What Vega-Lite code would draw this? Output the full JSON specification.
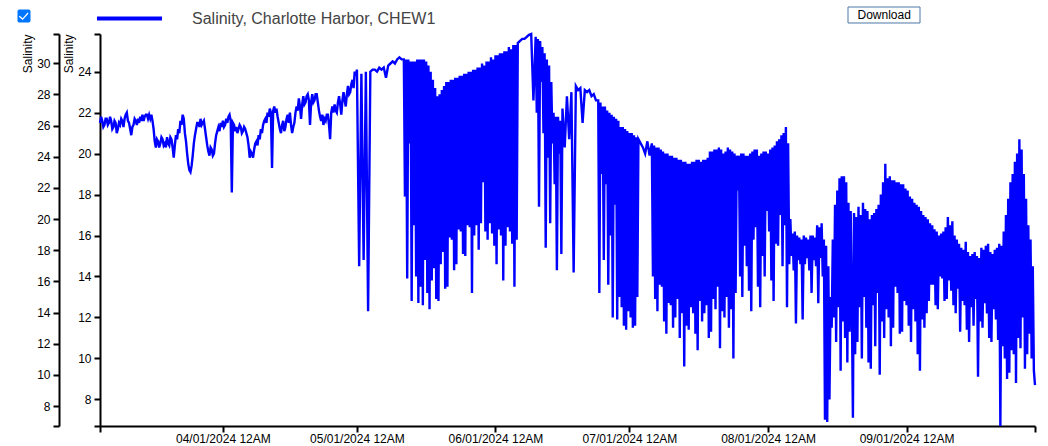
{
  "$schema": "https://vega.github.io/schema/vega-lite/v6.json",
  "width": 935,
  "height": 392,
  "autosize": {"type": "none"},
  "padding": {"left": 100, "top": 34, "right": 13, "bottom": 20},
  "background": "white",
  "config": {"view": {"stroke": null}, "font": "Liberation Sans"},
  "data": {"values": [
{"t":"2024-03-04T12:00","s":21.5},{"t":"2024-03-04T18:00","s":21.8},
{"t":"2024-03-05T00:00","s":21.6},{"t":"2024-03-05T06:00","s":21.3},{"t":"2024-03-05T12:00","s":21.4},{"t":"2024-03-05T18:00","s":21.7},
{"t":"2024-03-06T00:00","s":21.7},{"t":"2024-03-06T06:00","s":21.4},{"t":"2024-03-06T12:00","s":21.5},{"t":"2024-03-06T18:00","s":21.8},
{"t":"2024-03-07T00:00","s":21.6},{"t":"2024-03-07T06:00","s":21.2},{"t":"2024-03-07T12:00","s":21.3},{"t":"2024-03-07T18:00","s":21.6},
{"t":"2024-03-08T00:00","s":21.5},{"t":"2024-03-08T06:00","s":21.0},{"t":"2024-03-08T12:00","s":21.2},{"t":"2024-03-08T18:00","s":21.5},
{"t":"2024-03-09T00:00","s":21.4},{"t":"2024-03-09T06:00","s":21.7},{"t":"2024-03-09T12:00","s":21.6},{"t":"2024-03-09T18:00","s":21.3},
{"t":"2024-03-10T00:00","s":21.7},{"t":"2024-03-10T06:00","s":21.9},{"t":"2024-03-10T12:00","s":22.0},{"t":"2024-03-10T18:00","s":21.6},
{"t":"2024-03-11T00:00","s":21.5},{"t":"2024-03-11T06:00","s":21.2},{"t":"2024-03-11T12:00","s":20.9},{"t":"2024-03-11T18:00","s":21.3},
{"t":"2024-03-12T00:00","s":21.4},{"t":"2024-03-12T06:00","s":21.7},{"t":"2024-03-12T12:00","s":21.6},{"t":"2024-03-12T18:00","s":21.4},
{"t":"2024-03-13T00:00","s":21.7},{"t":"2024-03-13T06:00","s":21.5},{"t":"2024-03-13T12:00","s":21.8},{"t":"2024-03-13T18:00","s":21.6},
{"t":"2024-03-14T00:00","s":21.9},{"t":"2024-03-14T06:00","s":21.6},{"t":"2024-03-14T12:00","s":21.8},{"t":"2024-03-14T18:00","s":21.9},
{"t":"2024-03-15T00:00","s":21.9},{"t":"2024-03-15T06:00","s":21.7},{"t":"2024-03-15T12:00","s":21.9},{"t":"2024-03-15T18:00","s":21.7},
{"t":"2024-03-16T00:00","s":21.9},{"t":"2024-03-16T06:00","s":21.6},{"t":"2024-03-16T12:00","s":21.2},{"t":"2024-03-16T18:00","s":20.6},
{"t":"2024-03-17T00:00","s":20.3},{"t":"2024-03-17T06:00","s":20.7},{"t":"2024-03-17T12:00","s":20.6},{"t":"2024-03-17T18:00","s":20.3},
{"t":"2024-03-18T00:00","s":20.5},{"t":"2024-03-18T06:00","s":20.8},{"t":"2024-03-18T12:00","s":20.7},{"t":"2024-03-18T18:00","s":20.4},
{"t":"2024-03-19T00:00","s":20.5},{"t":"2024-03-19T06:00","s":20.3},{"t":"2024-03-19T12:00","s":20.8},{"t":"2024-03-19T18:00","s":20.5},
{"t":"2024-03-20T00:00","s":20.4},{"t":"2024-03-20T06:00","s":20.8},{"t":"2024-03-20T12:00","s":20.7},{"t":"2024-03-20T18:00","s":20.3},
{"t":"2024-03-21T00:00","s":19.8},{"t":"2024-03-21T06:00","s":20.4},{"t":"2024-03-21T12:00","s":20.9},{"t":"2024-03-21T18:00","s":20.7},
{"t":"2024-03-22T00:00","s":21.2},{"t":"2024-03-22T06:00","s":21.0},{"t":"2024-03-22T12:00","s":21.6},{"t":"2024-03-22T18:00","s":21.4},
{"t":"2024-03-23T00:00","s":21.9},{"t":"2024-03-23T06:00","s":21.7},{"t":"2024-03-23T12:00","s":21.0},{"t":"2024-03-23T18:00","s":20.6},
{"t":"2024-03-24T00:00","s":20.0},{"t":"2024-03-24T06:00","s":19.5},{"t":"2024-03-24T12:00","s":19.2},{"t":"2024-03-24T18:00","s":19.1},
{"t":"2024-03-25T00:00","s":19.4},{"t":"2024-03-25T06:00","s":19.9},{"t":"2024-03-25T12:00","s":20.5},{"t":"2024-03-25T18:00","s":20.9},
{"t":"2024-03-26T00:00","s":21.2},{"t":"2024-03-26T06:00","s":21.5},{"t":"2024-03-26T12:00","s":21.5},{"t":"2024-03-26T18:00","s":21.3},
{"t":"2024-03-27T00:00","s":21.7},{"t":"2024-03-27T06:00","s":21.4},{"t":"2024-03-27T12:00","s":21.5},{"t":"2024-03-27T18:00","s":21.6},
{"t":"2024-03-28T00:00","s":21.2},{"t":"2024-03-28T06:00","s":20.8},{"t":"2024-03-28T12:00","s":20.4},{"t":"2024-03-28T18:00","s":20.1},
{"t":"2024-03-29T00:00","s":19.9},{"t":"2024-03-29T06:00","s":20.3},{"t":"2024-03-29T12:00","s":20.2},{"t":"2024-03-29T18:00","s":19.9},
{"t":"2024-03-30T00:00","s":20.0},{"t":"2024-03-30T06:00","s":20.5},{"t":"2024-03-30T12:00","s":20.9},{"t":"2024-03-30T18:00","s":21.1},
{"t":"2024-03-31T00:00","s":21.3},{"t":"2024-03-31T06:00","s":21.1},{"t":"2024-03-31T12:00","s":21.5},{"t":"2024-03-31T18:00","s":21.3},
{"t":"2024-04-01T00:00","s":21.6},{"t":"2024-04-01T06:00","s":21.3},{"t":"2024-04-01T12:00","s":21.4},{"t":"2024-04-01T18:00","s":21.7},
{"t":"2024-04-02T00:00","s":21.5},{"t":"2024-04-02T06:00","s":21.8},{"t":"2024-04-02T12:00","s":21.9},{"t":"2024-04-02T18:00","s":21.6},
{"t":"2024-04-03T00:00","s":18.1},{"t":"2024-04-03T06:00","s":21.5},{"t":"2024-04-03T12:00","s":21.4},{"t":"2024-04-03T18:00","s":21.1},
{"t":"2024-04-04T00:00","s":21.3},{"t":"2024-04-04T06:00","s":21.0},{"t":"2024-04-04T12:00","s":21.2},{"t":"2024-04-04T18:00","s":21.4},
{"t":"2024-04-05T00:00","s":21.3},{"t":"2024-04-05T06:00","s":21.0},{"t":"2024-04-05T12:00","s":21.1},{"t":"2024-04-05T18:00","s":21.3},
{"t":"2024-04-06T00:00","s":21.2},{"t":"2024-04-06T06:00","s":21.0},{"t":"2024-04-06T12:00","s":20.8},{"t":"2024-04-06T18:00","s":20.4},
{"t":"2024-04-07T00:00","s":19.8},{"t":"2024-04-07T06:00","s":20.1},{"t":"2024-04-07T12:00","s":20.0},{"t":"2024-04-07T18:00","s":19.8},
{"t":"2024-04-08T00:00","s":20.2},{"t":"2024-04-08T06:00","s":20.5},{"t":"2024-04-08T12:00","s":20.6},{"t":"2024-04-08T18:00","s":20.4},
{"t":"2024-04-09T00:00","s":20.9},{"t":"2024-04-09T06:00","s":20.7},{"t":"2024-04-09T12:00","s":21.2},{"t":"2024-04-09T18:00","s":21.0},
{"t":"2024-04-10T00:00","s":21.4},{"t":"2024-04-10T06:00","s":21.6},{"t":"2024-04-10T12:00","s":21.7},{"t":"2024-04-10T18:00","s":21.5},
{"t":"2024-04-11T00:00","s":22.0},{"t":"2024-04-11T06:00","s":21.8},{"t":"2024-04-11T12:00","s":22.2},{"t":"2024-04-11T18:00","s":22.0},
{"t":"2024-04-12T00:00","s":19.3},{"t":"2024-04-12T06:00","s":22.1},{"t":"2024-04-12T12:00","s":22.3},{"t":"2024-04-12T18:00","s":22.0},
{"t":"2024-04-13T00:00","s":22.2},{"t":"2024-04-13T06:00","s":21.8},{"t":"2024-04-13T12:00","s":21.5},{"t":"2024-04-13T18:00","s":21.2},
{"t":"2024-04-14T00:00","s":21.0},{"t":"2024-04-14T06:00","s":21.4},{"t":"2024-04-14T12:00","s":21.6},{"t":"2024-04-14T18:00","s":21.1},
{"t":"2024-04-15T00:00","s":21.3},{"t":"2024-04-15T06:00","s":21.7},{"t":"2024-04-15T12:00","s":21.9},{"t":"2024-04-15T18:00","s":21.5},
{"t":"2024-04-16T00:00","s":22.0},{"t":"2024-04-16T06:00","s":21.4},{"t":"2024-04-16T12:00","s":21.0},{"t":"2024-04-16T18:00","s":21.3},
{"t":"2024-04-17T00:00","s":21.5},{"t":"2024-04-17T06:00","s":22.0},{"t":"2024-04-17T12:00","s":22.3},{"t":"2024-04-17T18:00","s":22.1},
{"t":"2024-04-18T00:00","s":22.7},{"t":"2024-04-18T06:00","s":22.3},{"t":"2024-04-18T12:00","s":21.7},{"t":"2024-04-18T18:00","s":22.4},
{"t":"2024-04-19T00:00","s":22.8},{"t":"2024-04-19T06:00","s":22.4},{"t":"2024-04-19T12:00","s":22.5},{"t":"2024-04-19T18:00","s":22.8},
{"t":"2024-04-20T00:00","s":22.9},{"t":"2024-04-20T06:00","s":22.6},{"t":"2024-04-20T12:00","s":21.4},{"t":"2024-04-20T18:00","s":22.5},
{"t":"2024-04-21T00:00","s":22.9},{"t":"2024-04-21T06:00","s":22.5},{"t":"2024-04-21T12:00","s":22.6},{"t":"2024-04-21T18:00","s":22.9},
{"t":"2024-04-22T00:00","s":22.9},{"t":"2024-04-22T06:00","s":22.5},{"t":"2024-04-22T12:00","s":22.1},{"t":"2024-04-22T18:00","s":21.8},
{"t":"2024-04-23T00:00","s":21.6},{"t":"2024-04-23T06:00","s":21.9},{"t":"2024-04-23T12:00","s":21.4},{"t":"2024-04-23T18:00","s":21.7},
{"t":"2024-04-24T00:00","s":21.6},{"t":"2024-04-24T06:00","s":21.9},{"t":"2024-04-24T12:00","s":21.9},{"t":"2024-04-24T18:00","s":21.4},
{"t":"2024-04-25T00:00","s":20.7},{"t":"2024-04-25T06:00","s":22.0},{"t":"2024-04-25T12:00","s":22.3},{"t":"2024-04-25T18:00","s":22.0},
{"t":"2024-04-26T00:00","s":22.4},{"t":"2024-04-26T06:00","s":22.1},{"t":"2024-04-26T12:00","s":22.0},{"t":"2024-04-26T18:00","s":22.5},
{"t":"2024-04-27T00:00","s":22.8},{"t":"2024-04-27T06:00","s":22.4},{"t":"2024-04-27T12:00","s":21.9},{"t":"2024-04-27T18:00","s":22.6},
{"t":"2024-04-28T00:00","s":23.0},{"t":"2024-04-28T06:00","s":22.6},{"t":"2024-04-28T12:00","s":22.3},{"t":"2024-04-28T18:00","s":22.9},
{"t":"2024-04-29T00:00","s":23.3},{"t":"2024-04-29T06:00","s":22.9},{"t":"2024-04-29T12:00","s":23.0},{"t":"2024-04-29T18:00","s":23.4},
{"t":"2024-04-30T00:00","s":23.6},{"t":"2024-04-30T06:00","s":23.2},{"t":"2024-04-30T12:00","s":24.0},{"t":"2024-04-30T18:00","s":23.8},
{"t":"2024-05-01T00:00","s":24.1},{"t":"2024-05-01T12:00","s":14.5},
{"t":"2024-05-02T00:00","s":23.9},{"t":"2024-05-02T12:00","s":14.8},
{"t":"2024-05-03T00:00","s":24.0},{"t":"2024-05-03T12:00","s":12.3},
{"t":"2024-05-04T00:00","s":24.0},{"t":"2024-05-04T12:00","s":24.1},
{"t":"2024-05-05T00:00","s":24.1},{"t":"2024-05-05T12:00","s":24.0},
{"t":"2024-05-06T00:00","s":24.2},{"t":"2024-05-06T12:00","s":24.1},
{"t":"2024-05-07T00:00","s":24.2},{"t":"2024-05-07T12:00","s":23.7},
{"t":"2024-05-08T00:00","s":24.3},{"t":"2024-05-08T12:00","s":24.4},
{"t":"2024-05-09T00:00","s":24.5},{"t":"2024-05-09T12:00","s":24.4},
{"t":"2024-05-10T00:00","s":24.6},{"t":"2024-05-10T12:00","s":24.7},
{"t":"2024-05-11T00:00","s":24.6},{"t":"2024-05-11T06:00","s":24.6},{"t":"2024-05-11T12:00","s":24.6},{"t":"2024-05-11T18:00","s":17.9},
{"t":"2024-05-12T00:00","s":24.6},{"t":"2024-05-12T06:00","s":13.9},{"t":"2024-05-12T12:00","s":24.6},{"t":"2024-05-12T18:00","s":20.5},
{"t":"2024-05-13T00:00","s":24.5},{"t":"2024-05-13T06:00","s":12.8},{"t":"2024-05-13T12:00","s":24.5},{"t":"2024-05-13T18:00","s":16.5},
{"t":"2024-05-14T00:00","s":24.5},{"t":"2024-05-14T06:00","s":14.0},{"t":"2024-05-14T12:00","s":24.6},{"t":"2024-05-14T18:00","s":12.7},
{"t":"2024-05-15T00:00","s":24.6},{"t":"2024-05-15T06:00","s":13.5},{"t":"2024-05-15T12:00","s":24.6},{"t":"2024-05-15T18:00","s":12.6},
{"t":"2024-05-16T00:00","s":24.6},{"t":"2024-05-16T06:00","s":14.8},{"t":"2024-05-16T12:00","s":24.5},{"t":"2024-05-16T18:00","s":13.2},
{"t":"2024-05-17T00:00","s":24.3},{"t":"2024-05-17T06:00","s":12.4},{"t":"2024-05-17T12:00","s":24.0},{"t":"2024-05-17T18:00","s":13.8},
{"t":"2024-05-18T00:00","s":23.6},{"t":"2024-05-18T06:00","s":14.4},{"t":"2024-05-18T12:00","s":23.2},{"t":"2024-05-18T18:00","s":12.9},
{"t":"2024-05-19T00:00","s":22.8},{"t":"2024-05-19T06:00","s":12.8},{"t":"2024-05-19T12:00","s":22.9},{"t":"2024-05-19T18:00","s":14.6},
{"t":"2024-05-20T00:00","s":23.1},{"t":"2024-05-20T06:00","s":15.2},{"t":"2024-05-20T12:00","s":23.3},{"t":"2024-05-20T18:00","s":13.4},
{"t":"2024-05-21T00:00","s":23.5},{"t":"2024-05-21T06:00","s":13.5},{"t":"2024-05-21T12:00","s":23.5},{"t":"2024-05-21T18:00","s":15.9},
{"t":"2024-05-22T00:00","s":23.6},{"t":"2024-05-22T06:00","s":15.8},{"t":"2024-05-22T12:00","s":23.6},{"t":"2024-05-22T18:00","s":14.3},
{"t":"2024-05-23T00:00","s":23.7},{"t":"2024-05-23T06:00","s":14.6},{"t":"2024-05-23T12:00","s":23.7},{"t":"2024-05-23T18:00","s":16.3},
{"t":"2024-05-24T00:00","s":23.8},{"t":"2024-05-24T06:00","s":16.2},{"t":"2024-05-24T12:00","s":23.8},{"t":"2024-05-24T18:00","s":15.1},
{"t":"2024-05-25T00:00","s":23.9},{"t":"2024-05-25T06:00","s":15.0},{"t":"2024-05-25T12:00","s":23.9},{"t":"2024-05-25T18:00","s":16.5},
{"t":"2024-05-26T00:00","s":24.0},{"t":"2024-05-26T06:00","s":16.4},{"t":"2024-05-26T12:00","s":24.0},{"t":"2024-05-26T18:00","s":13.2},
{"t":"2024-05-27T00:00","s":24.1},{"t":"2024-05-27T06:00","s":16.0},{"t":"2024-05-27T12:00","s":24.1},{"t":"2024-05-27T18:00","s":16.5},
{"t":"2024-05-28T00:00","s":24.2},{"t":"2024-05-28T06:00","s":15.3},{"t":"2024-05-28T12:00","s":24.2},{"t":"2024-05-28T18:00","s":16.6},
{"t":"2024-05-29T00:00","s":24.4},{"t":"2024-05-29T06:00","s":18.6},{"t":"2024-05-29T12:00","s":24.3},{"t":"2024-05-29T18:00","s":16.2},
{"t":"2024-05-30T00:00","s":24.5},{"t":"2024-05-30T06:00","s":15.8},{"t":"2024-05-30T12:00","s":24.5},{"t":"2024-05-30T18:00","s":16.6},
{"t":"2024-05-31T00:00","s":24.7},{"t":"2024-05-31T06:00","s":16.1},{"t":"2024-05-31T12:00","s":24.6},{"t":"2024-05-31T18:00","s":15.5},
{"t":"2024-06-01T00:00","s":24.8},{"t":"2024-06-01T06:00","s":14.6},{"t":"2024-06-01T12:00","s":24.8},{"t":"2024-06-01T18:00","s":16.3},
{"t":"2024-06-02T00:00","s":24.9},{"t":"2024-06-02T06:00","s":16.0},{"t":"2024-06-02T12:00","s":24.9},{"t":"2024-06-02T18:00","s":13.8},
{"t":"2024-06-03T00:00","s":25.0},{"t":"2024-06-03T06:00","s":15.5},{"t":"2024-06-03T12:00","s":25.0},{"t":"2024-06-03T18:00","s":16.4},
{"t":"2024-06-04T00:00","s":25.2},{"t":"2024-06-04T06:00","s":16.2},{"t":"2024-06-04T12:00","s":25.1},{"t":"2024-06-04T18:00","s":15.6},
{"t":"2024-06-05T00:00","s":25.3},{"t":"2024-06-05T06:00","s":13.5},{"t":"2024-06-05T12:00","s":25.3},{"t":"2024-06-05T18:00","s":15.8},
{"t":"2024-06-06T00:00","s":25.4},{"t":"2024-06-06T12:00","s":25.5},
{"t":"2024-06-07T00:00","s":25.6},{"t":"2024-06-07T12:00","s":25.6},
{"t":"2024-06-08T00:00","s":25.7},{"t":"2024-06-08T12:00","s":25.8},
{"t":"2024-06-09T00:00","s":25.84},{"t":"2024-06-09T12:00","s":22.6},
{"t":"2024-06-10T00:00","s":25.7},{"t":"2024-06-10T06:00","s":22.0},{"t":"2024-06-10T12:00","s":25.6},{"t":"2024-06-10T18:00","s":17.4},
{"t":"2024-06-11T00:00","s":25.5},{"t":"2024-06-11T06:00","s":23.5},{"t":"2024-06-11T12:00","s":25.2},{"t":"2024-06-11T18:00","s":21.0},
{"t":"2024-06-12T00:00","s":24.9},{"t":"2024-06-12T06:00","s":15.4},{"t":"2024-06-12T12:00","s":24.6},{"t":"2024-06-12T18:00","s":19.8},
{"t":"2024-06-13T00:00","s":24.3},{"t":"2024-06-13T06:00","s":16.6},{"t":"2024-06-13T12:00","s":23.5},{"t":"2024-06-13T18:00","s":20.5},
{"t":"2024-06-14T00:00","s":22.0},{"t":"2024-06-14T06:00","s":18.5},{"t":"2024-06-14T12:00","s":21.8},{"t":"2024-06-14T18:00","s":14.3},
{"t":"2024-06-15T00:00","s":21.8},{"t":"2024-06-15T06:00","s":20.0},{"t":"2024-06-15T12:00","s":21.6},{"t":"2024-06-15T18:00","s":15.1},
{"t":"2024-06-16T00:00","s":22.2},{"t":"2024-06-16T12:00","s":20.3},
{"t":"2024-06-17T00:00","s":22.8},{"t":"2024-06-17T12:00","s":20.7},
{"t":"2024-06-18T00:00","s":23.0},{"t":"2024-06-18T12:00","s":14.2},
{"t":"2024-06-19T00:00","s":23.3},{"t":"2024-06-19T12:00","s":23.1},
{"t":"2024-06-20T00:00","s":23.2},{"t":"2024-06-20T12:00","s":21.5},
{"t":"2024-06-21T00:00","s":23.1},{"t":"2024-06-21T12:00","s":23.0},
{"t":"2024-06-22T00:00","s":23.1},{"t":"2024-06-22T12:00","s":22.8},
{"t":"2024-06-23T00:00","s":22.9},{"t":"2024-06-23T12:00","s":22.6},
{"t":"2024-06-24T00:00","s":22.6},{"t":"2024-06-24T06:00","s":13.2},{"t":"2024-06-24T12:00","s":22.5},{"t":"2024-06-24T18:00","s":19.0},
{"t":"2024-06-25T00:00","s":22.3},{"t":"2024-06-25T06:00","s":14.8},{"t":"2024-06-25T12:00","s":22.3},{"t":"2024-06-25T18:00","s":18.5},
{"t":"2024-06-26T00:00","s":22.1},{"t":"2024-06-26T06:00","s":13.6},{"t":"2024-06-26T12:00","s":22.0},{"t":"2024-06-26T18:00","s":16.0},
{"t":"2024-06-27T00:00","s":21.9},{"t":"2024-06-27T06:00","s":12.0},{"t":"2024-06-27T12:00","s":21.8},{"t":"2024-06-27T18:00","s":17.5},
{"t":"2024-06-28T00:00","s":21.7},{"t":"2024-06-28T06:00","s":11.9},{"t":"2024-06-28T12:00","s":21.6},{"t":"2024-06-28T18:00","s":13.0},
{"t":"2024-06-29T00:00","s":21.3},{"t":"2024-06-29T06:00","s":12.5},{"t":"2024-06-29T12:00","s":21.3},{"t":"2024-06-29T18:00","s":11.6},
{"t":"2024-06-30T00:00","s":21.2},{"t":"2024-06-30T06:00","s":11.4},{"t":"2024-06-30T12:00","s":21.1},{"t":"2024-06-30T18:00","s":12.3},
{"t":"2024-07-01T00:00","s":21.0},{"t":"2024-07-01T06:00","s":12.0},{"t":"2024-07-01T12:00","s":21.0},{"t":"2024-07-01T18:00","s":11.5},
{"t":"2024-07-02T00:00","s":20.9},{"t":"2024-07-02T06:00","s":11.6},{"t":"2024-07-02T12:00","s":20.8},{"t":"2024-07-02T18:00","s":13.0},
{"t":"2024-07-03T00:00","s":20.7},{"t":"2024-07-03T12:00","s":20.5},
{"t":"2024-07-04T00:00","s":20.3},{"t":"2024-07-04T12:00","s":20.0},
{"t":"2024-07-05T00:00","s":20.6},{"t":"2024-07-05T12:00","s":19.9},
{"t":"2024-07-06T00:00","s":20.5},{"t":"2024-07-06T06:00","s":14.0},{"t":"2024-07-06T12:00","s":20.4},{"t":"2024-07-06T18:00","s":12.9},
{"t":"2024-07-07T00:00","s":20.3},{"t":"2024-07-07T06:00","s":12.3},{"t":"2024-07-07T12:00","s":20.3},{"t":"2024-07-07T18:00","s":13.6},
{"t":"2024-07-08T00:00","s":20.2},{"t":"2024-07-08T06:00","s":13.5},{"t":"2024-07-08T12:00","s":20.1},{"t":"2024-07-08T18:00","s":11.8},
{"t":"2024-07-09T00:00","s":20.0},{"t":"2024-07-09T06:00","s":11.2},{"t":"2024-07-09T12:00","s":20.0},{"t":"2024-07-09T18:00","s":12.7},
{"t":"2024-07-10T00:00","s":19.9},{"t":"2024-07-10T06:00","s":12.6},{"t":"2024-07-10T12:00","s":19.9},{"t":"2024-07-10T18:00","s":11.5},
{"t":"2024-07-11T00:00","s":19.8},{"t":"2024-07-11T06:00","s":12.0},{"t":"2024-07-11T12:00","s":19.8},{"t":"2024-07-11T18:00","s":12.9},
{"t":"2024-07-12T00:00","s":19.7},{"t":"2024-07-12T06:00","s":11.0},{"t":"2024-07-12T12:00","s":19.7},{"t":"2024-07-12T18:00","s":12.2},
{"t":"2024-07-13T00:00","s":19.6},{"t":"2024-07-13T06:00","s":9.6},{"t":"2024-07-13T12:00","s":19.6},{"t":"2024-07-13T18:00","s":11.6},
{"t":"2024-07-14T00:00","s":19.5},{"t":"2024-07-14T06:00","s":11.4},{"t":"2024-07-14T12:00","s":19.5},{"t":"2024-07-14T18:00","s":12.5},
{"t":"2024-07-15T00:00","s":19.6},{"t":"2024-07-15T06:00","s":12.2},{"t":"2024-07-15T12:00","s":19.6},{"t":"2024-07-15T18:00","s":11.2},
{"t":"2024-07-16T00:00","s":19.7},{"t":"2024-07-16T06:00","s":10.4},{"t":"2024-07-16T12:00","s":19.7},{"t":"2024-07-16T18:00","s":12.8},
{"t":"2024-07-17T00:00","s":19.6},{"t":"2024-07-17T06:00","s":11.8},{"t":"2024-07-17T12:00","s":19.7},{"t":"2024-07-17T18:00","s":12.2},
{"t":"2024-07-18T00:00","s":19.7},{"t":"2024-07-18T06:00","s":12.6},{"t":"2024-07-18T12:00","s":19.8},{"t":"2024-07-18T18:00","s":11.0},
{"t":"2024-07-19T00:00","s":20.1},{"t":"2024-07-19T06:00","s":11.3},{"t":"2024-07-19T12:00","s":20.1},{"t":"2024-07-19T18:00","s":12.9},
{"t":"2024-07-20T00:00","s":20.2},{"t":"2024-07-20T06:00","s":12.4},{"t":"2024-07-20T12:00","s":20.2},{"t":"2024-07-20T18:00","s":13.5},
{"t":"2024-07-21T00:00","s":20.3},{"t":"2024-07-21T06:00","s":10.5},{"t":"2024-07-21T12:00","s":20.2},{"t":"2024-07-21T18:00","s":12.3},
{"t":"2024-07-22T00:00","s":20.0},{"t":"2024-07-22T06:00","s":12.0},{"t":"2024-07-22T12:00","s":20.1},{"t":"2024-07-22T18:00","s":13.0},
{"t":"2024-07-23T00:00","s":20.3},{"t":"2024-07-23T06:00","s":11.5},{"t":"2024-07-23T12:00","s":20.2},{"t":"2024-07-23T18:00","s":12.4},
{"t":"2024-07-24T00:00","s":20.1},{"t":"2024-07-24T06:00","s":10.0},{"t":"2024-07-24T12:00","s":20.0},{"t":"2024-07-24T18:00","s":13.2},
{"t":"2024-07-25T00:00","s":19.9},{"t":"2024-07-25T06:00","s":18.2},{"t":"2024-07-25T12:00","s":19.9},{"t":"2024-07-25T18:00","s":14.0},
{"t":"2024-07-26T00:00","s":20.0},{"t":"2024-07-26T06:00","s":13.0},{"t":"2024-07-26T12:00","s":20.0},{"t":"2024-07-26T18:00","s":15.5},
{"t":"2024-07-27T00:00","s":19.9},{"t":"2024-07-27T06:00","s":14.5},{"t":"2024-07-27T12:00","s":19.9},{"t":"2024-07-27T18:00","s":13.3},
{"t":"2024-07-28T00:00","s":20.0},{"t":"2024-07-28T06:00","s":12.3},{"t":"2024-07-28T12:00","s":20.1},{"t":"2024-07-28T18:00","s":15.8},
{"t":"2024-07-29T00:00","s":20.2},{"t":"2024-07-29T06:00","s":16.4},{"t":"2024-07-29T12:00","s":20.2},{"t":"2024-07-29T18:00","s":13.5},
{"t":"2024-07-30T00:00","s":19.9},{"t":"2024-07-30T06:00","s":12.5},{"t":"2024-07-30T12:00","s":20.0},{"t":"2024-07-30T18:00","s":15.0},
{"t":"2024-07-31T00:00","s":20.1},{"t":"2024-07-31T06:00","s":14.0},{"t":"2024-07-31T12:00","s":20.1},{"t":"2024-07-31T18:00","s":17.2},
{"t":"2024-08-01T00:00","s":20.0},{"t":"2024-08-01T06:00","s":16.2},{"t":"2024-08-01T12:00","s":20.2},{"t":"2024-08-01T18:00","s":13.8},
{"t":"2024-08-02T00:00","s":20.3},{"t":"2024-08-02T06:00","s":12.8},{"t":"2024-08-02T12:00","s":20.4},{"t":"2024-08-02T18:00","s":15.6},
{"t":"2024-08-03T00:00","s":20.6},{"t":"2024-08-03T06:00","s":15.5},{"t":"2024-08-03T12:00","s":20.7},{"t":"2024-08-03T18:00","s":17.0},
{"t":"2024-08-04T00:00","s":20.9},{"t":"2024-08-04T06:00","s":14.5},{"t":"2024-08-04T12:00","s":21.0},{"t":"2024-08-04T18:00","s":16.5},
{"t":"2024-08-05T00:00","s":21.3},{"t":"2024-08-05T06:00","s":12.5},{"t":"2024-08-05T12:00","s":20.5},{"t":"2024-08-05T18:00","s":14.6},
{"t":"2024-08-06T00:00","s":16.8},{"t":"2024-08-06T06:00","s":15.0},{"t":"2024-08-06T12:00","s":16.1},{"t":"2024-08-06T18:00","s":14.3},
{"t":"2024-08-07T00:00","s":16.2},{"t":"2024-08-07T06:00","s":11.7},{"t":"2024-08-07T12:00","s":16.0},{"t":"2024-08-07T18:00","s":14.8},
{"t":"2024-08-08T00:00","s":15.9},{"t":"2024-08-08T06:00","s":14.6},{"t":"2024-08-08T12:00","s":15.8},{"t":"2024-08-08T18:00","s":11.9},
{"t":"2024-08-09T00:00","s":16.0},{"t":"2024-08-09T06:00","s":14.6},{"t":"2024-08-09T12:00","s":15.9},{"t":"2024-08-09T18:00","s":14.9},
{"t":"2024-08-10T00:00","s":15.8},{"t":"2024-08-10T06:00","s":14.3},{"t":"2024-08-10T12:00","s":16.0},{"t":"2024-08-10T18:00","s":13.2},
{"t":"2024-08-11T00:00","s":16.0},{"t":"2024-08-11T06:00","s":14.8},{"t":"2024-08-11T12:00","s":15.9},{"t":"2024-08-11T18:00","s":14.5},
{"t":"2024-08-12T00:00","s":16.5},{"t":"2024-08-12T06:00","s":12.7},{"t":"2024-08-12T12:00","s":16.4},{"t":"2024-08-12T18:00","s":14.9},
{"t":"2024-08-13T00:00","s":16.6},{"t":"2024-08-13T06:00","s":14.0},{"t":"2024-08-13T12:00","s":15.8},{"t":"2024-08-13T18:00","s":7.0},
{"t":"2024-08-14T00:00","s":15.5},{"t":"2024-08-14T06:00","s":6.9},{"t":"2024-08-14T12:00","s":14.5},{"t":"2024-08-14T18:00","s":8.0},
{"t":"2024-08-15T00:00","s":13.0},{"t":"2024-08-15T06:00","s":11.5},{"t":"2024-08-15T12:00","s":15.8},{"t":"2024-08-15T18:00","s":12.0},
{"t":"2024-08-16T00:00","s":17.5},{"t":"2024-08-16T06:00","s":10.8},{"t":"2024-08-16T12:00","s":18.2},{"t":"2024-08-16T18:00","s":12.5},
{"t":"2024-08-17T00:00","s":18.8},{"t":"2024-08-17T06:00","s":9.4},{"t":"2024-08-17T12:00","s":18.9},{"t":"2024-08-17T18:00","s":11.8},
{"t":"2024-08-18T00:00","s":18.9},{"t":"2024-08-18T06:00","s":11.0},{"t":"2024-08-18T12:00","s":18.6},{"t":"2024-08-18T18:00","s":9.8},
{"t":"2024-08-19T00:00","s":17.6},{"t":"2024-08-19T06:00","s":11.3},{"t":"2024-08-19T12:00","s":17.2},{"t":"2024-08-19T18:00","s":12.8},
{"t":"2024-08-20T00:00","s":7.1},{"t":"2024-08-20T06:00","s":17.1},{"t":"2024-08-20T12:00","s":10.2},{"t":"2024-08-20T18:00","s":16.9},
{"t":"2024-08-21T00:00","s":10.8},{"t":"2024-08-21T06:00","s":17.4},{"t":"2024-08-21T12:00","s":12.5},{"t":"2024-08-21T18:00","s":17.0},
{"t":"2024-08-22T00:00","s":10.0},{"t":"2024-08-22T06:00","s":17.6},{"t":"2024-08-22T12:00","s":13.0},{"t":"2024-08-22T18:00","s":17.3},
{"t":"2024-08-23T00:00","s":11.5},{"t":"2024-08-23T06:00","s":17.2},{"t":"2024-08-23T12:00","s":9.8},{"t":"2024-08-23T18:00","s":16.8},
{"t":"2024-08-24T00:00","s":9.5},{"t":"2024-08-24T06:00","s":17.0},{"t":"2024-08-24T12:00","s":12.6},{"t":"2024-08-24T18:00","s":17.1},
{"t":"2024-08-25T00:00","s":10.6},{"t":"2024-08-25T06:00","s":17.3},{"t":"2024-08-25T12:00","s":13.2},{"t":"2024-08-25T18:00","s":17.5},
{"t":"2024-08-26T00:00","s":9.2},{"t":"2024-08-26T06:00","s":18.0},{"t":"2024-08-26T12:00","s":11.8},{"t":"2024-08-26T18:00","s":18.6},
{"t":"2024-08-27T00:00","s":11.0},{"t":"2024-08-27T06:00","s":19.5},{"t":"2024-08-27T12:00","s":12.4},{"t":"2024-08-27T18:00","s":18.8},
{"t":"2024-08-28T00:00","s":12.0},{"t":"2024-08-28T06:00","s":18.9},{"t":"2024-08-28T12:00","s":10.6},{"t":"2024-08-28T18:00","s":18.7},
{"t":"2024-08-29T00:00","s":11.5},{"t":"2024-08-29T06:00","s":18.7},{"t":"2024-08-29T12:00","s":13.5},{"t":"2024-08-29T18:00","s":18.6},
{"t":"2024-08-30T00:00","s":13.2},{"t":"2024-08-30T06:00","s":18.6},{"t":"2024-08-30T12:00","s":11.2},{"t":"2024-08-30T18:00","s":18.5},
{"t":"2024-08-31T00:00","s":11.3},{"t":"2024-08-31T06:00","s":18.5},{"t":"2024-08-31T12:00","s":12.8},{"t":"2024-08-31T18:00","s":18.3},
{"t":"2024-09-01T00:00","s":12.6},{"t":"2024-09-01T06:00","s":18.2},{"t":"2024-09-01T12:00","s":11.6},{"t":"2024-09-01T18:00","s":17.9},
{"t":"2024-09-02T00:00","s":10.8},{"t":"2024-09-02T06:00","s":17.8},{"t":"2024-09-02T12:00","s":12.4},{"t":"2024-09-02T18:00","s":17.6},
{"t":"2024-09-03T00:00","s":11.8},{"t":"2024-09-03T06:00","s":17.5},{"t":"2024-09-03T12:00","s":10.2},{"t":"2024-09-03T18:00","s":17.4},
{"t":"2024-09-04T00:00","s":9.4},{"t":"2024-09-04T06:00","s":17.2},{"t":"2024-09-04T12:00","s":11.9},{"t":"2024-09-04T18:00","s":17.0},
{"t":"2024-09-05T00:00","s":11.5},{"t":"2024-09-05T06:00","s":16.9},{"t":"2024-09-05T12:00","s":12.2},{"t":"2024-09-05T18:00","s":16.8},
{"t":"2024-09-06T00:00","s":12.8},{"t":"2024-09-06T06:00","s":16.6},{"t":"2024-09-06T12:00","s":13.6},{"t":"2024-09-06T18:00","s":16.5},
{"t":"2024-09-07T00:00","s":13.6},{"t":"2024-09-07T06:00","s":16.3},{"t":"2024-09-07T12:00","s":12.6},{"t":"2024-09-07T18:00","s":16.2},
{"t":"2024-09-08T00:00","s":12.4},{"t":"2024-09-08T06:00","s":16.0},{"t":"2024-09-08T12:00","s":14.0},{"t":"2024-09-08T18:00","s":16.1},
{"t":"2024-09-09T00:00","s":13.9},{"t":"2024-09-09T06:00","s":16.2},{"t":"2024-09-09T12:00","s":12.8},{"t":"2024-09-09T18:00","s":16.4},
{"t":"2024-09-10T00:00","s":12.9},{"t":"2024-09-10T06:00","s":16.9},{"t":"2024-09-10T12:00","s":13.8},{"t":"2024-09-10T18:00","s":16.5},
{"t":"2024-09-11T00:00","s":13.3},{"t":"2024-09-11T06:00","s":16.7},{"t":"2024-09-11T12:00","s":12.6},{"t":"2024-09-11T18:00","s":16.0},
{"t":"2024-09-12T00:00","s":12.2},{"t":"2024-09-12T06:00","s":15.8},{"t":"2024-09-12T12:00","s":13.4},{"t":"2024-09-12T18:00","s":15.6},
{"t":"2024-09-13T00:00","s":11.3},{"t":"2024-09-13T06:00","s":15.4},{"t":"2024-09-13T12:00","s":12.8},{"t":"2024-09-13T18:00","s":15.3},
{"t":"2024-09-14T00:00","s":12.6},{"t":"2024-09-14T06:00","s":15.7},{"t":"2024-09-14T12:00","s":11.4},{"t":"2024-09-14T18:00","s":15.2},
{"t":"2024-09-15T00:00","s":10.8},{"t":"2024-09-15T06:00","s":15.0},{"t":"2024-09-15T12:00","s":12.5},{"t":"2024-09-15T18:00","s":15.1},
{"t":"2024-09-16T00:00","s":11.6},{"t":"2024-09-16T06:00","s":15.2},{"t":"2024-09-16T12:00","s":12.9},{"t":"2024-09-16T18:00","s":15.0},
{"t":"2024-09-17T00:00","s":9.1},{"t":"2024-09-17T06:00","s":14.9},{"t":"2024-09-17T12:00","s":11.8},{"t":"2024-09-17T18:00","s":15.4},
{"t":"2024-09-18T00:00","s":11.5},{"t":"2024-09-18T06:00","s":15.3},{"t":"2024-09-18T12:00","s":12.7},{"t":"2024-09-18T18:00","s":15.5},
{"t":"2024-09-19T00:00","s":12.2},{"t":"2024-09-19T06:00","s":15.6},{"t":"2024-09-19T12:00","s":11.0},{"t":"2024-09-19T18:00","s":15.2},
{"t":"2024-09-20T00:00","s":10.8},{"t":"2024-09-20T06:00","s":15.1},{"t":"2024-09-20T12:00","s":12.4},{"t":"2024-09-20T18:00","s":15.3},
{"t":"2024-09-21T00:00","s":11.9},{"t":"2024-09-21T06:00","s":15.4},{"t":"2024-09-21T12:00","s":10.9},{"t":"2024-09-21T18:00","s":15.6},
{"t":"2024-09-22T00:00","s":6.7},{"t":"2024-09-22T06:00","s":15.5},{"t":"2024-09-22T12:00","s":10.6},{"t":"2024-09-22T18:00","s":16.2},
{"t":"2024-09-23T00:00","s":10.0},{"t":"2024-09-23T06:00","s":17.0},{"t":"2024-09-23T12:00","s":9.0},{"t":"2024-09-23T18:00","s":17.8},
{"t":"2024-09-24T00:00","s":9.3},{"t":"2024-09-24T06:00","s":18.6},{"t":"2024-09-24T12:00","s":10.4},{"t":"2024-09-24T18:00","s":19.0},
{"t":"2024-09-25T00:00","s":10.2},{"t":"2024-09-25T06:00","s":19.6},{"t":"2024-09-25T12:00","s":8.8},{"t":"2024-09-25T18:00","s":20.0},
{"t":"2024-09-26T00:00","s":11.0},{"t":"2024-09-26T06:00","s":20.7},{"t":"2024-09-26T12:00","s":10.5},{"t":"2024-09-26T18:00","s":20.2},
{"t":"2024-09-27T00:00","s":12.0},{"t":"2024-09-27T06:00","s":19.0},{"t":"2024-09-27T12:00","s":9.5},{"t":"2024-09-27T18:00","s":17.8},
{"t":"2024-09-28T00:00","s":10.2},{"t":"2024-09-28T06:00","s":16.5},{"t":"2024-09-28T12:00","s":11.2},{"t":"2024-09-28T18:00","s":15.8},
{"t":"2024-09-29T00:00","s":10.0},{"t":"2024-09-29T06:00","s":14.5},{"t":"2024-09-29T12:00","s":9.4},{"t":"2024-09-29T18:00","s":8.7}
  ]},
  "encoding": {
    "x": {
      "field": "t", "type": "temporal",
      "scale": {"domain": [{"year": 2024, "month": 3, "date": 4, "hours": 12}, {"year": 2024, "month": 9, "date": 29, "hours": 18}], "nice": false},
      "axis": {
        "title": null, "grid": false,
        "values": [
          {"year": 2024, "month": 3, "date": 4, "hours": 12},
          {"year": 2024, "month": 4, "date": 1},
          {"year": 2024, "month": 5, "date": 1},
          {"year": 2024, "month": 6, "date": 1},
          {"year": 2024, "month": 7, "date": 1},
          {"year": 2024, "month": 8, "date": 1},
          {"year": 2024, "month": 9, "date": 1},
          {"year": 2024, "month": 9, "date": 29, "hours": 18}
        ],
        "labelExpr": "date(datum.value) == 1 ? timeFormat(datum.value, '%m/%d/%Y %I%p') : ''",
        "labelFlush": false, "labelOverlap": false,
        "labelFont": "Liberation Sans", "labelFontSize": 12, "labelColor": "#000",
        "labelPadding": 1, "tickSize": 6, "tickWidth": 2, "tickColor": "#000",
        "domainWidth": 2, "domainColor": "#000"
      }
    }
  },
  "layer": [
    {
      "mark": {"type": "line", "strokeWidth": 2.4, "interpolate": "linear"},
      "encoding": {
        "y": {
          "field": "s", "type": "quantitative",
          "scale": {"domain": [6.7, 25.84], "nice": false, "zero": false},
          "axis": {
            "orient": "left", "offset": 0, "grid": false,
            "values": [6.7, 8, 10, 12, 14, 16, 18, 20, 22, 24, 25.84],
            "labelExpr": "datum.value % 2 == 0 ? datum.label : ''",
            "title": "Salinity", "titleAngle": -90, "titleX": -25, "titleY": 0,
            "titleAlign": "right", "titleBaseline": "bottom",
            "titleFont": "Liberation Sans", "titleFontSize": 12, "titleFontWeight": "normal", "titleColor": "#000",
            "labelFont": "Liberation Sans", "labelFontSize": 12, "labelColor": "#000", "labelPadding": 3,
            "tickSize": 6, "tickWidth": 2, "tickColor": "#000", "domainWidth": 2, "domainColor": "#000"
          }
        },
        "color": {
          "datum": "Salinity, Charlotte Harbor, CHEW1", "type": "nominal",
          "scale": {"range": ["#0000ff"]},
          "legend": {
            "title": null, "orient": "none", "legendX": -5, "legendY": -50,
            "symbolType": "stroke", "symbolSize": 4225, "symbolStrokeWidth": 4,
            "labelFont": "Liberation Sans", "labelFontSize": 16, "labelColor": "#444",
            "labelOffset": 28, "labelLimit": 0, "padding": 0
          }
        }
      }
    },
    {
      "mark": {"type": "line", "opacity": 0},
      "encoding": {
        "y": {
          "field": "s", "type": "quantitative",
          "scale": {"domain": [6.72, 31.88], "nice": false, "zero": false},
          "axis": {
            "orient": "left", "offset": 41, "grid": false,
            "values": [6.72, 8, 10, 12, 14, 16, 18, 20, 22, 24, 26, 28, 30, 31.88],
            "labelExpr": "datum.value % 2 == 0 ? datum.label : ''",
            "title": "Salinity", "titleAngle": -90, "titleX": -25, "titleY": 0,
            "titleAlign": "right", "titleBaseline": "bottom",
            "titleFont": "Liberation Sans", "titleFontSize": 12, "titleFontWeight": "normal", "titleColor": "#000",
            "labelFont": "Liberation Sans", "labelFontSize": 12, "labelColor": "#000", "labelPadding": 3,
            "tickSize": 6, "tickWidth": 2, "tickColor": "#000", "domainWidth": 2, "domainColor": "#000"
          }
        }
      }
    },
    {
      "data": {"values": [{"t": "2024-06-01T00:00", "b": "Download"}]},
      "mark": {"type": "point", "opacity": 0},
      "encoding": {
        "shape": {
          "field": "b", "type": "nominal",
          "scale": {"range": ["M-1,-0.222H1V0.222H-1Z"]},
          "legend": {
            "title": null, "orient": "none", "legendX": 747.5, "legendY": -55.5,
            "symbolSize": 5184, "symbolStrokeWidth": 1, "symbolOpacity": 1,
            "labelFont": "Liberation Sans", "labelFontSize": 12, "labelColor": "#000",
            "labelOffset": -63, "labelLimit": 0, "padding": 0,
            "encode": {"symbols": {"update": {"fill": {"value": "#efefef"}, "stroke": {"value": "#333333"}, "strokeWidth": {"value": 1}, "opacity": {"value": 1}, "shape": {"value": "M-1,-0.222H1V0.222H-1Z"}}}}
          }
        }
      }
    },
    {
      "data": {"values": [{"t": "2024-06-01T00:00", "c": "shown"}]},
      "mark": {"type": "point", "opacity": 0, "filled": true},
      "encoding": {
        "fill": {
          "field": "c", "type": "nominal",
          "scale": {"range": ["#0075ff"]},
          "legend": {
            "title": null, "orient": "none", "legendX": -82.5, "legendY": -24.5,
            "symbolSize": 169, "symbolStrokeWidth": 0, "symbolOpacity": 1,
            "labelFontSize": 1, "labelOffset": 0, "padding": 0,
            "encode": {
              "symbols": {"update": {"fill": {"value": "#0075ff"}, "strokeWidth": {"value": 0}, "opacity": {"value": 1}, "shape": {"value": "M-0.8,-1H0.8L1,-0.8V0.8L0.8,1H-0.8L-1,0.8V-0.8Z M-0.65,-0.05L-0.8,0.1L-0.2,0.6L0.7,-0.38L0.55,-0.55L-0.2,0.35Z"}}},
              "labels": {"update": {"text": {"value": ""}}}
            }
          }
        }
      }
    }
  ],
  "resolve": {"scale": {"y": "independent"}, "axis": {"y": "independent"}}
}
